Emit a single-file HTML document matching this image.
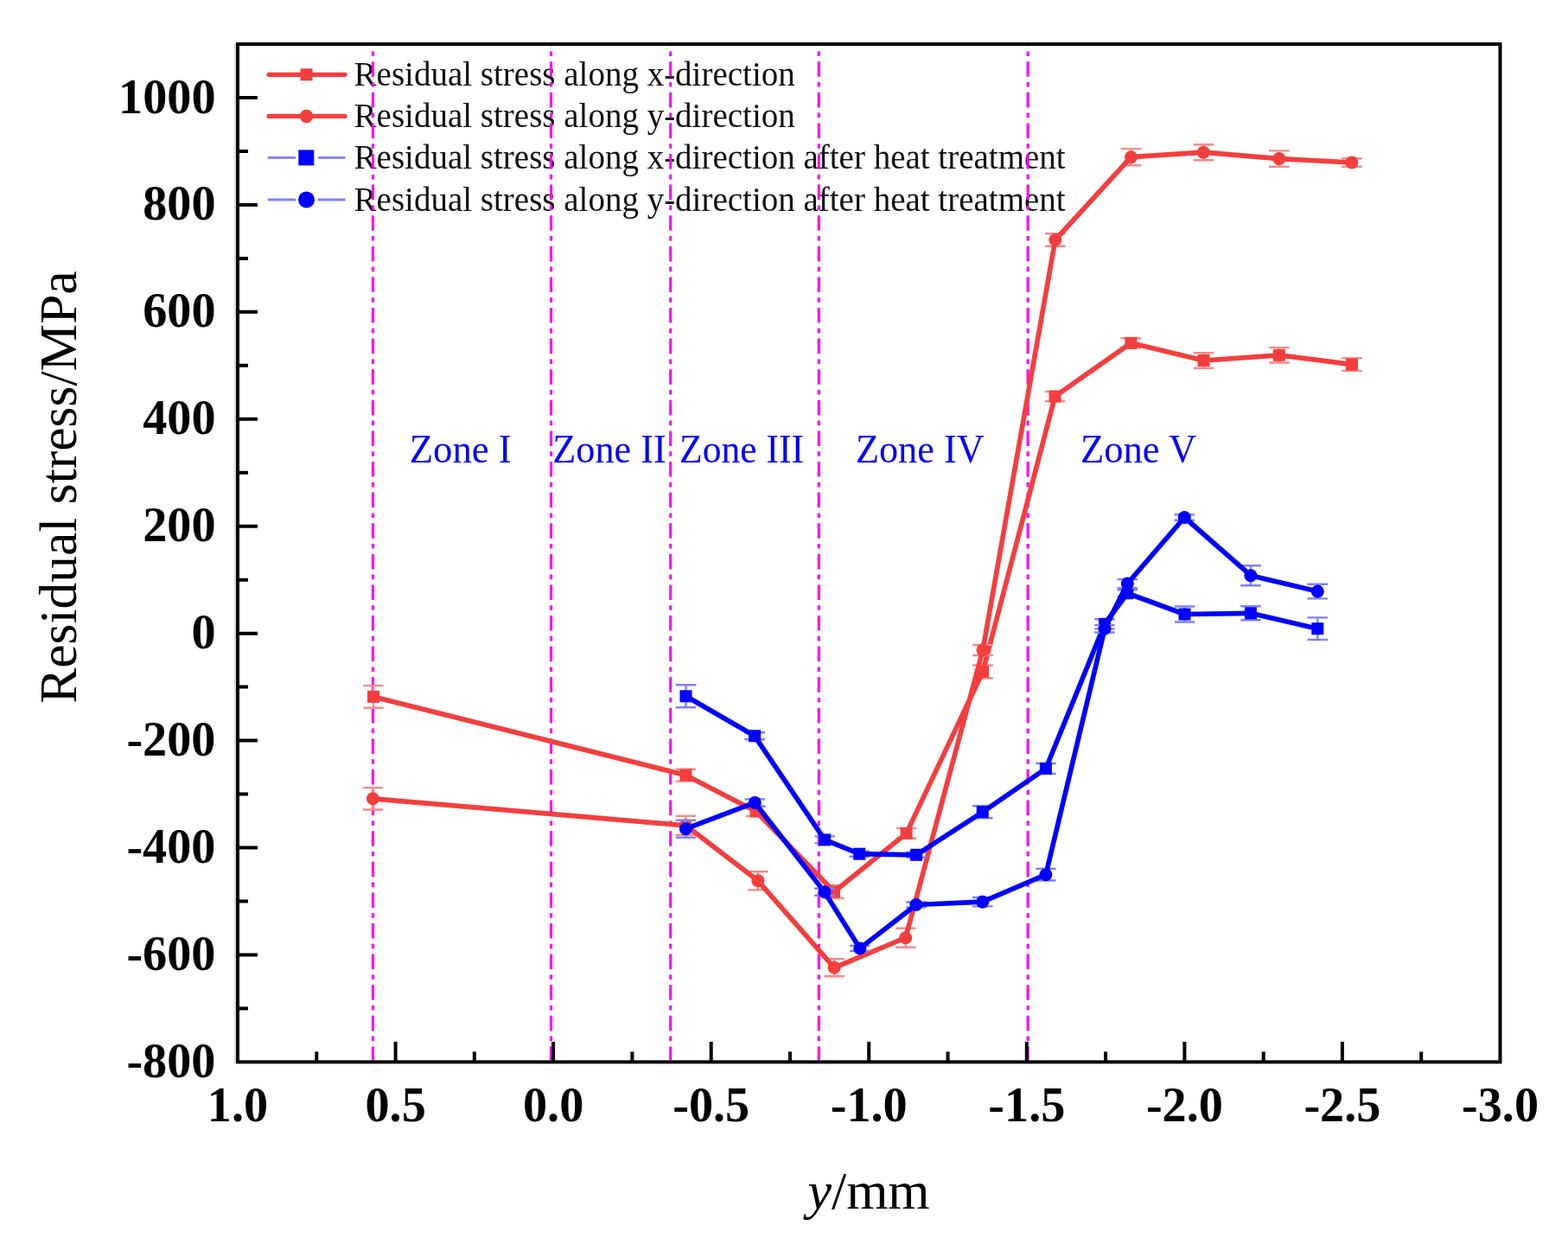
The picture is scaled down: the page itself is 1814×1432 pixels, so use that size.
<!DOCTYPE html><html><head><meta charset="utf-8"><title>Residual stress</title>
<style>html,body{margin:0;padding:0;background:#fff;overflow:hidden;}svg{display:block;}text{font-family:"Liberation Serif","Times New Roman",serif;}</style></head><body>
<svg width="1814" height="1432" viewBox="0 0 1814 1432">
<rect width="1814" height="1432" fill="#fff"/>
<text x="409.6" y="99.3" font-size="39" fill="#111">Residual stress along x-direction</text>
<text x="409.6" y="147.4" font-size="39" fill="#111">Residual stress along y-direction</text>
<text x="409.6" y="195.4" font-size="39" fill="#111">Residual stress along x-direction after heat treatment</text>
<text x="409.6" y="244.0" font-size="39" fill="#111">Residual stress along y-direction after heat treatment</text>
<line x1="431.4" y1="53.0" x2="431.4" y2="1226.4" stroke="#FF00FF" stroke-width="3.1" stroke-dasharray="17.6 6.2 5.6 6.2" stroke-dashoffset="17.40"/>
<line x1="637.5" y1="53.0" x2="637.5" y2="1226.4" stroke="#FF00FF" stroke-width="3.1" stroke-dasharray="17.6 6.2 5.6 6.2" stroke-dashoffset="17.40"/>
<line x1="775.7" y1="53.0" x2="775.7" y2="1226.4" stroke="#FF00FF" stroke-width="3.1" stroke-dasharray="17.6 6.2 5.6 6.2" stroke-dashoffset="17.40"/>
<line x1="947.3" y1="53.0" x2="947.3" y2="1226.4" stroke="#FF00FF" stroke-width="3.1" stroke-dasharray="17.6 6.2 5.6 6.2" stroke-dashoffset="17.40"/>
<line x1="1189.1" y1="53.0" x2="1189.1" y2="1226.4" stroke="#FF00FF" stroke-width="3.1" stroke-dasharray="17.6 6.2 5.6 6.2" stroke-dashoffset="17.40"/>
<path d="M432.0 793.1V818.7M420.2 793.1h23.5M420.2 818.7h23.5" stroke="#F78A8A" stroke-width="2.4" fill="none"/><path d="M793.4 889.8V903.6M781.6 889.8h23.5M781.6 903.6h23.5" stroke="#F78A8A" stroke-width="2.4" fill="none"/><path d="M874.5 933.0V944.0M862.8 933.0h23.5M862.8 944.0h23.5" stroke="#F78A8A" stroke-width="2.4" fill="none"/><path d="M965.0 1024.0V1039.0M953.2 1024.0h23.5M953.2 1039.0h23.5" stroke="#F78A8A" stroke-width="2.4" fill="none"/><path d="M1048.6 958.1V969.7M1036.8 958.1h23.5M1036.8 969.7h23.5" stroke="#F78A8A" stroke-width="2.4" fill="none"/><path d="M1137.0 769.5V784.5M1125.2 769.5h23.5M1125.2 784.5h23.5" stroke="#F78A8A" stroke-width="2.4" fill="none"/><path d="M1220.5 453.0V464.0M1208.8 453.0h23.5M1208.8 464.0h23.5" stroke="#F78A8A" stroke-width="2.4" fill="none"/><path d="M1308.3 391.3V402.3M1296.5 391.3h23.5M1296.5 402.3h23.5" stroke="#F78A8A" stroke-width="2.4" fill="none"/><path d="M1392.5 408.2V425.8M1380.8 408.2h23.5M1380.8 425.8h23.5" stroke="#F78A8A" stroke-width="2.4" fill="none"/><path d="M1479.8 402.1V419.5M1468.0 402.1h23.5M1468.0 419.5h23.5" stroke="#F78A8A" stroke-width="2.4" fill="none"/><path d="M1563.9 414.3V428.9M1552.2 414.3h23.5M1552.2 428.9h23.5" stroke="#F78A8A" stroke-width="2.4" fill="none"/><path d="M432.0 805.9 L793.4 896.7 L874.5 938.5 L965.0 1031.5 L1048.6 963.9 L1137.0 777.0 L1220.5 458.5 L1308.3 396.8 L1392.5 417.0 L1479.8 410.8 L1563.9 421.6" stroke="#F43E3E" stroke-width="5.7" fill="none" stroke-linejoin="round"/><rect x="425.0" y="798.9" width="14" height="14" fill="#F43E3E"/><rect x="786.4" y="889.7" width="14" height="14" fill="#F43E3E"/><rect x="867.5" y="931.5" width="14" height="14" fill="#F43E3E"/><rect x="958.0" y="1024.5" width="14" height="14" fill="#F43E3E"/><rect x="1041.6" y="956.9" width="14" height="14" fill="#F43E3E"/><rect x="1130.0" y="770.0" width="14" height="14" fill="#F43E3E"/><rect x="1213.5" y="451.5" width="14" height="14" fill="#F43E3E"/><rect x="1301.3" y="389.8" width="14" height="14" fill="#F43E3E"/><rect x="1385.5" y="410.0" width="14" height="14" fill="#F43E3E"/><rect x="1472.8" y="403.8" width="14" height="14" fill="#F43E3E"/><rect x="1556.9" y="414.6" width="14" height="14" fill="#F43E3E"/>
<path d="M431.4 911.1V936.5M419.6 911.1h23.5M419.6 936.5h23.5" stroke="#F78A8A" stroke-width="2.4" fill="none"/><path d="M793.4 943.9V965.7M781.6 943.9h23.5M781.6 965.7h23.5" stroke="#F78A8A" stroke-width="2.4" fill="none"/><path d="M876.9 1008.2V1029.4M865.1 1008.2h23.5M865.1 1029.4h23.5" stroke="#F78A8A" stroke-width="2.4" fill="none"/><path d="M965.1 1109.3V1129.3M953.4 1109.3h23.5M953.4 1129.3h23.5" stroke="#F78A8A" stroke-width="2.4" fill="none"/><path d="M1047.7 1073.7V1095.7M1036.0 1073.7h23.5M1036.0 1095.7h23.5" stroke="#F78A8A" stroke-width="2.4" fill="none"/><path d="M1137.0 746.0V758.0M1125.2 746.0h23.5M1125.2 758.0h23.5" stroke="#F78A8A" stroke-width="2.4" fill="none"/><path d="M1220.8 270.3V284.7M1209.0 270.3h23.5M1209.0 284.7h23.5" stroke="#F78A8A" stroke-width="2.4" fill="none"/><path d="M1308.5 172.1V191.3M1296.8 172.1h23.5M1296.8 191.3h23.5" stroke="#F78A8A" stroke-width="2.4" fill="none"/><path d="M1392.2 167.2V185.2M1380.5 167.2h23.5M1380.5 185.2h23.5" stroke="#F78A8A" stroke-width="2.4" fill="none"/><path d="M1479.8 174.4V192.8M1468.0 174.4h23.5M1468.0 192.8h23.5" stroke="#F78A8A" stroke-width="2.4" fill="none"/><path d="M1563.9 183.2V192.8M1552.2 183.2h23.5M1552.2 192.8h23.5" stroke="#F78A8A" stroke-width="2.4" fill="none"/><path d="M431.4 923.8 L793.4 954.8 L876.9 1018.8 L965.1 1119.3 L1047.7 1084.7 L1137.0 752.0 L1220.8 277.5 L1308.5 181.7 L1392.2 176.2 L1479.8 183.6 L1563.9 188.0" stroke="#F43E3E" stroke-width="5.7" fill="none" stroke-linejoin="round"/><circle cx="431.4" cy="923.8" r="7.5" fill="#F43E3E"/><circle cx="793.4" cy="954.8" r="7.5" fill="#F43E3E"/><circle cx="876.9" cy="1018.8" r="7.5" fill="#F43E3E"/><circle cx="965.1" cy="1119.3" r="7.5" fill="#F43E3E"/><circle cx="1047.7" cy="1084.7" r="7.5" fill="#F43E3E"/><circle cx="1137.0" cy="752.0" r="7.5" fill="#F43E3E"/><circle cx="1220.8" cy="277.5" r="7.5" fill="#F43E3E"/><circle cx="1308.5" cy="181.7" r="7.5" fill="#F43E3E"/><circle cx="1392.2" cy="176.2" r="7.5" fill="#F43E3E"/><circle cx="1479.8" cy="183.6" r="7.5" fill="#F43E3E"/><circle cx="1563.9" cy="188.0" r="7.5" fill="#F43E3E"/>
<path d="M793.5 792.3V818.3M781.8 792.3h23.5M781.8 818.3h23.5" stroke="#8080FF" stroke-width="2.4" fill="none"/><path d="M873.1 847.3V855.3M861.4 847.3h23.5M861.4 855.3h23.5" stroke="#8080FF" stroke-width="2.4" fill="none"/><path d="M954.1 967.4V975.4M942.4 967.4h23.5M942.4 975.4h23.5" stroke="#8080FF" stroke-width="2.4" fill="none"/><path d="M994.2 984.7V990.7M982.5 984.7h23.5M982.5 990.7h23.5" stroke="#8080FF" stroke-width="2.4" fill="none"/><path d="M1060.1 985.8V991.8M1048.3 985.8h23.5M1048.3 991.8h23.5" stroke="#8080FF" stroke-width="2.4" fill="none"/><path d="M1136.7 932.3V946.3M1125.0 932.3h23.5M1125.0 946.3h23.5" stroke="#8080FF" stroke-width="2.4" fill="none"/><path d="M1209.9 883.0V895.0M1198.2 883.0h23.5M1198.2 895.0h23.5" stroke="#8080FF" stroke-width="2.4" fill="none"/><path d="M1278.0 716.2V727.4M1266.2 716.2h23.5M1266.2 727.4h23.5" stroke="#8080FF" stroke-width="2.4" fill="none"/><path d="M1304.3 682.2V690.2M1292.5 682.2h23.5M1292.5 690.2h23.5" stroke="#8080FF" stroke-width="2.4" fill="none"/><path d="M1370.5 701.5V719.5M1358.8 701.5h23.5M1358.8 719.5h23.5" stroke="#8080FF" stroke-width="2.4" fill="none"/><path d="M1446.9 701.3V717.3M1435.2 701.3h23.5M1435.2 717.3h23.5" stroke="#8080FF" stroke-width="2.4" fill="none"/><path d="M1524.3 714.4V740.0M1512.5 714.4h23.5M1512.5 740.0h23.5" stroke="#8080FF" stroke-width="2.4" fill="none"/><path d="M793.5 805.3 L873.1 851.3 L954.1 971.4 L994.2 987.7 L1060.1 988.8 L1136.7 939.3 L1209.9 889.0 L1278.0 721.8 L1304.3 686.2 L1370.5 710.5 L1446.9 709.3 L1524.3 727.2" stroke="#0000FF" stroke-width="5.7" fill="none" stroke-linejoin="round"/><rect x="786.5" y="798.3" width="14" height="14" fill="#0000FF"/><rect x="866.1" y="844.3" width="14" height="14" fill="#0000FF"/><rect x="947.1" y="964.4" width="14" height="14" fill="#0000FF"/><rect x="987.2" y="980.7" width="14" height="14" fill="#0000FF"/><rect x="1053.1" y="981.8" width="14" height="14" fill="#0000FF"/><rect x="1129.7" y="932.3" width="14" height="14" fill="#0000FF"/><rect x="1202.9" y="882.0" width="14" height="14" fill="#0000FF"/><rect x="1271.0" y="714.8" width="14" height="14" fill="#0000FF"/><rect x="1297.3" y="679.2" width="14" height="14" fill="#0000FF"/><rect x="1363.5" y="703.5" width="14" height="14" fill="#0000FF"/><rect x="1439.9" y="702.3" width="14" height="14" fill="#0000FF"/><rect x="1517.3" y="720.2" width="14" height="14" fill="#0000FF"/>
<path d="M793.4 948.7V968.7M781.6 948.7h23.5M781.6 968.7h23.5" stroke="#8080FF" stroke-width="2.4" fill="none"/><path d="M873.3 924.4V932.4M861.5 924.4h23.5M861.5 932.4h23.5" stroke="#8080FF" stroke-width="2.4" fill="none"/><path d="M953.9 1027.8V1035.8M942.1 1027.8h23.5M942.1 1035.8h23.5" stroke="#8080FF" stroke-width="2.4" fill="none"/><path d="M994.8 1094.0V1100.0M983.0 1094.0h23.5M983.0 1100.0h23.5" stroke="#8080FF" stroke-width="2.4" fill="none"/><path d="M1059.9 1043.5V1049.5M1048.2 1043.5h23.5M1048.2 1049.5h23.5" stroke="#8080FF" stroke-width="2.4" fill="none"/><path d="M1136.7 1038.0V1048.4M1125.0 1038.0h23.5M1125.0 1048.4h23.5" stroke="#8080FF" stroke-width="2.4" fill="none"/><path d="M1209.9 1004.9V1018.5M1198.2 1004.9h23.5M1198.2 1018.5h23.5" stroke="#8080FF" stroke-width="2.4" fill="none"/><path d="M1278.0 723.1V731.5M1266.2 723.1h23.5M1266.2 731.5h23.5" stroke="#8080FF" stroke-width="2.4" fill="none"/><path d="M1304.3 670.1V680.1M1292.5 670.1h23.5M1292.5 680.1h23.5" stroke="#8080FF" stroke-width="2.4" fill="none"/><path d="M1370.3 595.3V601.7M1358.5 595.3h23.5M1358.5 601.7h23.5" stroke="#8080FF" stroke-width="2.4" fill="none"/><path d="M1446.9 654.2V677.2M1435.2 654.2h23.5M1435.2 677.2h23.5" stroke="#8080FF" stroke-width="2.4" fill="none"/><path d="M1524.3 675.8V692.4M1512.5 675.8h23.5M1512.5 692.4h23.5" stroke="#8080FF" stroke-width="2.4" fill="none"/><path d="M793.4 958.7 L873.3 928.4 L953.9 1031.8 L994.8 1097.0 L1059.9 1046.5 L1136.7 1043.2 L1209.9 1011.7 L1278.0 727.3 L1304.3 675.1 L1370.3 598.5 L1446.9 665.7 L1524.3 684.1" stroke="#0000FF" stroke-width="5.7" fill="none" stroke-linejoin="round"/><circle cx="793.4" cy="958.7" r="7.5" fill="#0000FF"/><circle cx="873.3" cy="928.4" r="7.5" fill="#0000FF"/><circle cx="953.9" cy="1031.8" r="7.5" fill="#0000FF"/><circle cx="994.8" cy="1097.0" r="7.5" fill="#0000FF"/><circle cx="1059.9" cy="1046.5" r="7.5" fill="#0000FF"/><circle cx="1136.7" cy="1043.2" r="7.5" fill="#0000FF"/><circle cx="1209.9" cy="1011.7" r="7.5" fill="#0000FF"/><circle cx="1278.0" cy="727.3" r="7.5" fill="#0000FF"/><circle cx="1304.3" cy="675.1" r="7.5" fill="#0000FF"/><circle cx="1370.3" cy="598.5" r="7.5" fill="#0000FF"/><circle cx="1446.9" cy="665.7" r="7.5" fill="#0000FF"/><circle cx="1524.3" cy="684.1" r="7.5" fill="#0000FF"/>
<path d="M271.8 50.0V1230.4" stroke="#d4d4d4" stroke-width="1.8"/>
<rect x="275.0" y="51.0" width="1460.5" height="1177.4" fill="none" stroke="#000" stroke-width="4"/>
<path d="M275.0 1166.4h12 M275.0 1104.5h23 M275.0 1042.5h12 M275.0 980.5h23 M275.0 918.6h12 M275.0 856.6h23 M275.0 794.6h12 M275.0 732.7h23 M275.0 670.7h12 M275.0 608.7h23 M275.0 546.7h12 M275.0 484.8h23 M275.0 422.8h12 M275.0 360.8h23 M275.0 298.9h12 M275.0 236.9h23 M275.0 174.9h12 M275.0 113.0h23 M366.3 1228.4v-12 M457.6 1228.4v-23.5 M548.8 1228.4v-12 M640.1 1228.4v-23.5 M731.4 1228.4v-12 M822.7 1228.4v-23.5 M914.0 1228.4v-12 M1005.2 1228.4v-23.5 M1096.5 1228.4v-12 M1187.8 1228.4v-23.5 M1279.1 1228.4v-12 M1370.4 1228.4v-23.5 M1461.7 1228.4v-12 M1552.9 1228.4v-23.5 M1644.2 1228.4v-12" stroke="#000" stroke-width="4" fill="none"/>
<text transform="translate(249.5 1245.9) scale(0.97 1)" text-anchor="end" font-size="58" font-weight="bold">-800</text>
<text transform="translate(249.5 1122.0) scale(0.97 1)" text-anchor="end" font-size="58" font-weight="bold">-600</text>
<text transform="translate(249.5 998.0) scale(0.97 1)" text-anchor="end" font-size="58" font-weight="bold">-400</text>
<text transform="translate(249.5 874.1) scale(0.97 1)" text-anchor="end" font-size="58" font-weight="bold">-200</text>
<text transform="translate(249.5 750.2) scale(0.97 1)" text-anchor="end" font-size="58" font-weight="bold">0</text>
<text transform="translate(249.5 626.2) scale(0.97 1)" text-anchor="end" font-size="58" font-weight="bold">200</text>
<text transform="translate(249.5 502.3) scale(0.97 1)" text-anchor="end" font-size="58" font-weight="bold">400</text>
<text transform="translate(249.5 378.3) scale(0.97 1)" text-anchor="end" font-size="58" font-weight="bold">600</text>
<text transform="translate(249.5 254.4) scale(0.97 1)" text-anchor="end" font-size="58" font-weight="bold">800</text>
<text transform="translate(249.5 130.5) scale(0.97 1)" text-anchor="end" font-size="58" font-weight="bold">1000</text>
<text transform="translate(275.0 1297) scale(0.97 1)" text-anchor="middle" font-size="58" font-weight="bold">1.0</text>
<text transform="translate(457.6 1297) scale(0.97 1)" text-anchor="middle" font-size="58" font-weight="bold">0.5</text>
<text transform="translate(640.1 1297) scale(0.97 1)" text-anchor="middle" font-size="58" font-weight="bold">0.0</text>
<text transform="translate(822.7 1297) scale(0.97 1)" text-anchor="middle" font-size="58" font-weight="bold">-0.5</text>
<text transform="translate(1005.2 1297) scale(0.97 1)" text-anchor="middle" font-size="58" font-weight="bold">-1.0</text>
<text transform="translate(1187.8 1297) scale(0.97 1)" text-anchor="middle" font-size="58" font-weight="bold">-1.5</text>
<text transform="translate(1370.4 1297) scale(0.97 1)" text-anchor="middle" font-size="58" font-weight="bold">-2.0</text>
<text transform="translate(1552.9 1297) scale(0.97 1)" text-anchor="middle" font-size="58" font-weight="bold">-2.5</text>
<text transform="translate(1735.5 1297) scale(0.97 1)" text-anchor="middle" font-size="58" font-weight="bold">-3.0</text>
<text transform="translate(87.8 563.6) rotate(-90)" text-anchor="middle" font-size="61.5">Residual stress/MPa</text>
<text x="1005" y="1398" text-anchor="middle" font-size="62"><tspan font-style="italic">y</tspan>/mm</text>
<text transform="translate(473.8 535) scale(0.994 1.04)" font-size="45" fill="#0000FF">Zone I</text>
<text transform="translate(639.2 535) scale(0.984 1.04)" font-size="45" fill="#0000FF">Zone II</text>
<text transform="translate(786.1 535) scale(0.968 1.04)" font-size="45" fill="#0000FF">Zone III</text>
<text transform="translate(989.9 535) scale(0.984 1.04)" font-size="45" fill="#0000FF">Zone IV</text>
<text transform="translate(1249.9 535) scale(0.992 1.04)" font-size="45" fill="#0000FF">Zone V</text>
<line x1="311" y1="86.3" x2="399" y2="86.3" stroke="#F43E3E" stroke-width="5.2" stroke-linecap="round"/>
<rect x="347.5" y="79.3" width="14" height="14" fill="#F43E3E"/>
<line x1="311" y1="134.4" x2="399" y2="134.4" stroke="#F43E3E" stroke-width="5.2" stroke-linecap="round"/>
<circle cx="354.5" cy="134.4" r="7.75" fill="#F43E3E"/>
<path d="M309.7 182.4H342M367.8 182.4H399.5" stroke="#8080FF" stroke-width="2.8"/>
<rect x="345.3" y="173.4" width="18" height="18" fill="#0000FF"/>
<path d="M309.7 231.0H342M367.8 231.0H399.5" stroke="#8080FF" stroke-width="2.8"/>
<circle cx="354.5" cy="231.0" r="9.5" fill="#0000FF"/>
</svg></body></html>
